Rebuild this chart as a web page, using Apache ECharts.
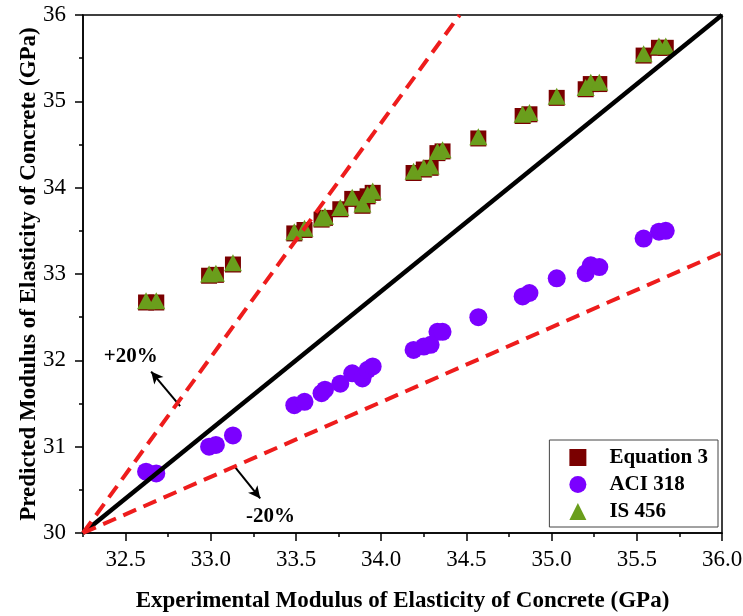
<!DOCTYPE html>
<html><head><meta charset="utf-8">
<script src="https://cdn.jsdelivr.net/npm/echarts@6/dist/echarts.min.js"></script>
<style>html,body{margin:0;padding:0;background:#fff}#c{width:743px;height:616px}</style>
</head><body><div id="c"></div>
<script>
// Experimental modulus (GPa), shared by the three predictions
const experimental = [32.62,32.68,32.99,33.03,33.13,33.49,33.55,33.65,33.67,33.76,33.83,33.89,33.92,33.95,34.19,34.25,34.29,34.33,34.36,34.57,34.83,34.87,35.03,35.20,35.23,35.28,35.54,35.63,35.67];
const equation3 = [32.67,32.67,32.98,32.99,33.11,33.47,33.51,33.63,33.65,33.75,33.87,33.79,33.90,33.94,34.17,34.21,34.23,34.40,34.42,34.57,34.83,34.85,35.04,35.14,35.20,35.20,35.53,35.62,35.62];
const aci318 = [30.71,30.69,31.00,31.02,31.13,31.48,31.52,31.62,31.66,31.73,31.85,31.79,31.89,31.93,32.12,32.16,32.18,32.33,32.33,32.50,32.74,32.78,32.95,33.01,33.10,33.08,33.41,33.49,33.50];
const is456 = [32.69,32.69,33.00,33.01,33.13,33.49,33.53,33.65,33.67,33.77,33.89,33.81,33.92,33.96,34.19,34.23,34.25,34.42,34.44,34.59,34.85,34.87,35.06,35.16,35.22,35.22,35.55,35.64,35.64];
// Reference lines (start, end)
const equalityLine = [[32.25,30],[36,36]];
const plus20Line = [[32.25,30],[34.46,36]];
const minus20Line = [[32.25,30],[36,33.25]];
// Annotation anchors
const plusArrow = [[32.82,31.47],[32.65,31.87]];
const minusArrow = [[33.14,30.77],[33.29,30.40]];
const plusLabel = [32.53,32.04];
const minusLabel = [33.35,30.19];
const xTicks = [32.5,33.0,33.5,34.0,34.5,35.0,35.5,36.0];

const pairs = ys => experimental.map((x,i)=>[x,ys[i]]);
const serif = '"Liberation Serif","DejaVu Serif",serif';
const chart = echarts.init(document.getElementById('c'));
chart.setOption({
  animation:false,
  backgroundColor:'#fff',
  grid:{left:83,right:21,top:15,bottom:83,outerBoundsMode:'none',containLabel:false,show:true,borderColor:'#000',borderWidth:1.5,backgroundColor:'transparent'},
  xAxis:[{
    type:'value',min:32.25,max:36,
    name:'Experimental Modulus of Elasticity of Concrete (GPa)',
    nameLocation:'middle',nameGap:57,nameMoveOverlap:false,
    nameTextStyle:{fontFamily:serif,fontWeight:'bold',fontSize:23,color:'#000'},
    axisLine:{lineStyle:{color:'#000',width:1.5}},
    axisTick:{show:true,inside:false,length:8,customValues:xTicks,lineStyle:{color:'#000',width:1.5}},
    axisLabel:{customValues:xTicks,formatter:v=>v.toFixed(1),fontFamily:serif,fontSize:23,color:'#000',margin:15},
    splitLine:{show:false}
  },{
    type:'value',min:32.25,max:36,interval:0.25,position:'bottom',
    axisLine:{show:false},
    axisTick:{show:true,length:4,lineStyle:{color:'#000',width:1.5}},
    axisLabel:{show:false},splitLine:{show:false}
  }],
  yAxis:{
    type:'value',min:30,max:36,interval:1,
    name:'Predicted Modulus of Elasticity of Concrete (GPa)',
    nameLocation:'middle',nameGap:42,nameMoveOverlap:false,
    nameTextStyle:{fontFamily:serif,fontWeight:'bold',fontSize:23,color:'#000'},
    axisLine:{show:true,lineStyle:{color:'#000',width:1.5}},
    axisTick:{show:true,length:8,lineStyle:{color:'#000',width:1.5}},
    minorTick:{show:true,splitNumber:2,length:4,lineStyle:{color:'#000',width:1.5}},
    axisLabel:{fontFamily:serif,fontSize:23,color:'#000',margin:17},
    splitLine:{show:false}
  },
  legend:{
    orient:'vertical',right:25,top:440,
    data:[{name:'Equation 3',icon:'rect'},{name:'ACI 318',icon:'circle'},{name:'IS 456',icon:'triangle'}],
    itemWidth:17,itemHeight:17,itemGap:6,
    padding:[7,10,5,20],
    borderColor:'#444',borderWidth:1,backgroundColor:'#fff',
    textStyle:{fontFamily:serif,fontWeight:'bold',fontSize:21,color:'#000',padding:[0,0,0,18]}
  },
  series:[
    {name:'Equation 3',type:'scatter',data:pairs(equation3),symbol:'rect',symbolSize:16,itemStyle:{color:'#7A0000',opacity:1},z:2},
    {name:'ACI 318',type:'scatter',data:pairs(aci318),symbol:'circle',symbolSize:18,itemStyle:{color:'#7B00FF',opacity:1},z:2},
    {name:'IS 456',type:'scatter',data:pairs(is456),symbol:'triangle',symbolSize:[18,17],itemStyle:{color:'#6A9E1C',opacity:1},z:3},
    {name:'eq',type:'line',data:equalityLine,symbol:'none',lineStyle:{color:'#000',width:4.5},z:5,silent:true,
      markLine:{silent:true,symbol:['none','arrow'],symbolSize:[9,12],lineStyle:{color:'#000',width:2,type:'solid'},label:{show:false},
        data:[[{coord:plusArrow[0]},{coord:plusArrow[1]}],[{coord:minusArrow[0]},{coord:minusArrow[1]}]]},
      markPoint:{silent:true,symbol:'rect',symbolSize:1,itemStyle:{color:'rgba(0,0,0,0)'},
        label:{show:true,position:'inside',fontFamily:serif,fontWeight:'bold',fontSize:21,color:'#000',formatter:p=>p.name},
        data:[{name:'+20%',coord:plusLabel},{name:'-20%',coord:minusLabel}]}
    },
    {name:'p20',type:'line',data:plus20Line,symbol:'none',lineStyle:{color:'#EE1C1C',width:4,type:[14,8]},z:5,silent:true},
    {name:'m20',type:'line',data:minus20Line,symbol:'none',lineStyle:{color:'#EE1C1C',width:4,type:[14,8]},z:5,silent:true}
  ]
});
</script></body></html>
